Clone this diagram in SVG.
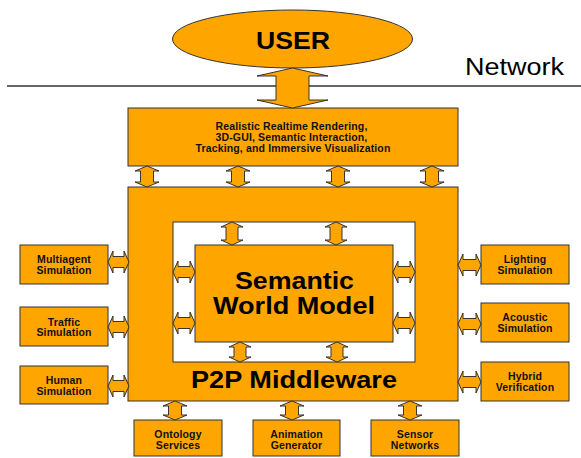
<svg xmlns="http://www.w3.org/2000/svg" width="581" height="458" viewBox="0 0 581 458">
  <style>
    .box { fill: #FFA500; stroke: #333333; stroke-width: 1; }
    .arrow { fill: #FFA500; stroke: #222222; stroke-width: 0.9; stroke-linejoin: miter; }
    .lbl { font-family: "Liberation Sans", Arial, sans-serif; font-weight: bold; font-size: 10.5px; letter-spacing: 0.15px; fill: #111111; text-anchor: middle; }
    .big { font-family: "Liberation Sans", Arial, sans-serif; font-weight: bold; font-size: 23px; fill: #000000; text-anchor: middle; }
  </style>
  <rect width="581" height="458" fill="#ffffff"/>

  <!-- network boundary -->
  <g id="network">
    <line x1="7" y1="86" x2="581" y2="86" stroke="#333333" stroke-width="1.4"/>
    <text x="465" y="75" font-family="Liberation Sans, Arial, sans-serif" font-size="23" fill="#000" textLength="99" lengthAdjust="spacingAndGlyphs">Network</text>
  </g>

  <g id="user">
    <ellipse cx="292.5" cy="39" rx="120" ry="29" class="box"/>
    <text x="293" y="49" class="big" font-size="24" textLength="74" lengthAdjust="spacingAndGlyphs">USER</text>
  </g>

  <g id="rendering">
    <rect x="128" y="108" width="330" height="58" class="box"/>
    <text class="lbl">
      <tspan x="293" y="129.5">Realistic Realtime Rendering,</tspan>
      <tspan x="293" y="140.5">3D-GUI, Semantic Interaction,</tspan>
      <tspan x="293" y="151.5">Tracking, and Immersive Visualization</tspan>
    </text>
  </g>

  <g id="p2p-middleware">
    <rect x="128" y="187" width="330" height="214" class="box"/>
    <rect x="173" y="222" width="242" height="140" fill="#ffffff" stroke="#333333" stroke-width="1"/>
    <text x="294" y="388" class="big" textLength="206" lengthAdjust="spacingAndGlyphs">P2P Middleware</text>
  </g>

  <g id="semantic-world-model">
    <rect x="195" y="245" width="198" height="97" class="box"/>
    <text x="294.5" y="289" class="big" textLength="119" lengthAdjust="spacingAndGlyphs">Semantic</text>
    <text x="294" y="314" class="big" textLength="162" lengthAdjust="spacingAndGlyphs">World Model</text>
  </g>

  <g id="multiagent-simulation">
    <rect x="20" y="245" width="88" height="39" class="box"/>
    <text class="lbl"><tspan x="64" y="263">Multiagent</tspan><tspan x="64" y="274">Simulation</tspan></text>
  </g>
  <g id="traffic-simulation">
    <rect x="20" y="307" width="88" height="39" class="box"/>
    <text class="lbl"><tspan x="64" y="325.5">Traffic</tspan><tspan x="64" y="336">Simulation</tspan></text>
  </g>
  <g id="human-simulation">
    <rect x="20" y="366" width="88" height="38" class="box"/>
    <text class="lbl"><tspan x="64" y="383.5">Human</tspan><tspan x="64" y="394.5">Simulation</tspan></text>
  </g>

  <g id="lighting-simulation">
    <rect x="481" y="245" width="88" height="39" class="box"/>
    <text class="lbl"><tspan x="525" y="263">Lighting</tspan><tspan x="525" y="274">Simulation</tspan></text>
  </g>
  <g id="acoustic-simulation">
    <rect x="481" y="303" width="88" height="39" class="box"/>
    <text class="lbl"><tspan x="525" y="321">Acoustic</tspan><tspan x="525" y="332">Simulation</tspan></text>
  </g>
  <g id="hybrid-verification">
    <rect x="481" y="362" width="88" height="39" class="box"/>
    <text class="lbl"><tspan x="525" y="380">Hybrid</tspan><tspan x="525" y="391">Verification</tspan></text>
  </g>

  <g id="ontology-services">
    <rect x="134" y="420" width="88" height="36" class="box"/>
    <text class="lbl"><tspan x="178" y="437.5">Ontology</tspan><tspan x="178" y="448.5">Services</tspan></text>
  </g>
  <g id="animation-generator">
    <rect x="253" y="420" width="87" height="36" class="box"/>
    <text class="lbl"><tspan x="296.5" y="437.5">Animation</tspan><tspan x="296.5" y="448.5">Generator</tspan></text>
  </g>
  <g id="sensor-networks">
    <rect x="371" y="420" width="88" height="36" class="box"/>
    <text class="lbl"><tspan x="415" y="437.5">Sensor</tspan><tspan x="415" y="448.5">Networks</tspan></text>
  </g>

  <!-- double-headed block arrows -->
  <g id="connectors" class="arrow">
    <path d="M292.5,68 L328,76 H309 V100 H328 L292.5,108 L257,100 H276 V76 H257 Z"/>

    <path d="M147,166 L159,171 H153.5 V182 H159 L147,187 L135,182 H140.5 V171 H135 Z"/>
    <path d="M238,166 L250,171 H244.5 V182 H250 L238,187 L226,182 H231.5 V171 H226 Z"/>
    <path d="M338,166 L350,171 H344.5 V182 H350 L338,187 L326,182 H331.5 V171 H326 Z"/>
    <path d="M432,166 L444,171 H438.5 V182 H444 L432,187 L420,182 H425.5 V171 H420 Z"/>

    <path d="M232,222 L243,227 H238 V240 H243 L232,245 L221,240 H226 V227 H221 Z"/>
    <path d="M336,222 L347,227 H342 V240 H347 L336,245 L325,240 H330 V227 H325 Z"/>
    <path d="M240,342 L251,347 H246 V357 H251 L240,362 L229,357 H234 V347 H229 Z"/>
    <path d="M337,342 L348,347 H343 V357 H348 L337,362 L326,357 H331 V347 H326 Z"/>

    <path d="M175,401 L187,406 H181.5 V415 H187 L175,420 L163,415 H168.5 V406 H163 Z"/>
    <path d="M292,401 L304,406 H298.5 V415 H304 L292,420 L280,415 H285.5 V406 H280 Z"/>
    <path d="M410,401 L422,406 H416.5 V415 H422 L410,420 L398,415 H403.5 V406 H398 Z"/>

    <path d="M108,262 L113,251 V256.5 H124 V251 L129,262 L124,273 V267.5 H113 V273 Z"/>
    <path d="M108,327 L113,316 V321.5 H124 V316 L129,327 L124,338 V332.5 H113 V338 Z"/>
    <path d="M108,386 L113,375 V380.5 H124 V375 L129,386 L124,397 V391.5 H113 V397 Z"/>

    <path d="M458,265 L463,254 V259.5 H476 V254 L481,265 L476,276 V270.5 H463 V276 Z"/>
    <path d="M458,324 L463,313 V318.5 H476 V313 L481,324 L476,335 V329.5 H463 V335 Z"/>
    <path d="M458,382 L463,371 V376.5 H476 V371 L481,382 L476,393 V387.5 H463 V393 Z"/>

    <path d="M173,272 L178,261 V266.5 H190 V261 L195,272 L190,283 V277.5 H178 V283 Z"/>
    <path d="M173,323 L178,312 V317.5 H190 V312 L195,323 L190,334 V328.5 H178 V334 Z"/>
    <path d="M393,272 L398,261 V266.5 H410 V261 L415,272 L410,283 V277.5 H398 V283 Z"/>
    <path d="M393,323 L398,312 V317.5 H410 V312 L415,323 L410,334 V328.5 H398 V334 Z"/>
  </g>
</svg>
